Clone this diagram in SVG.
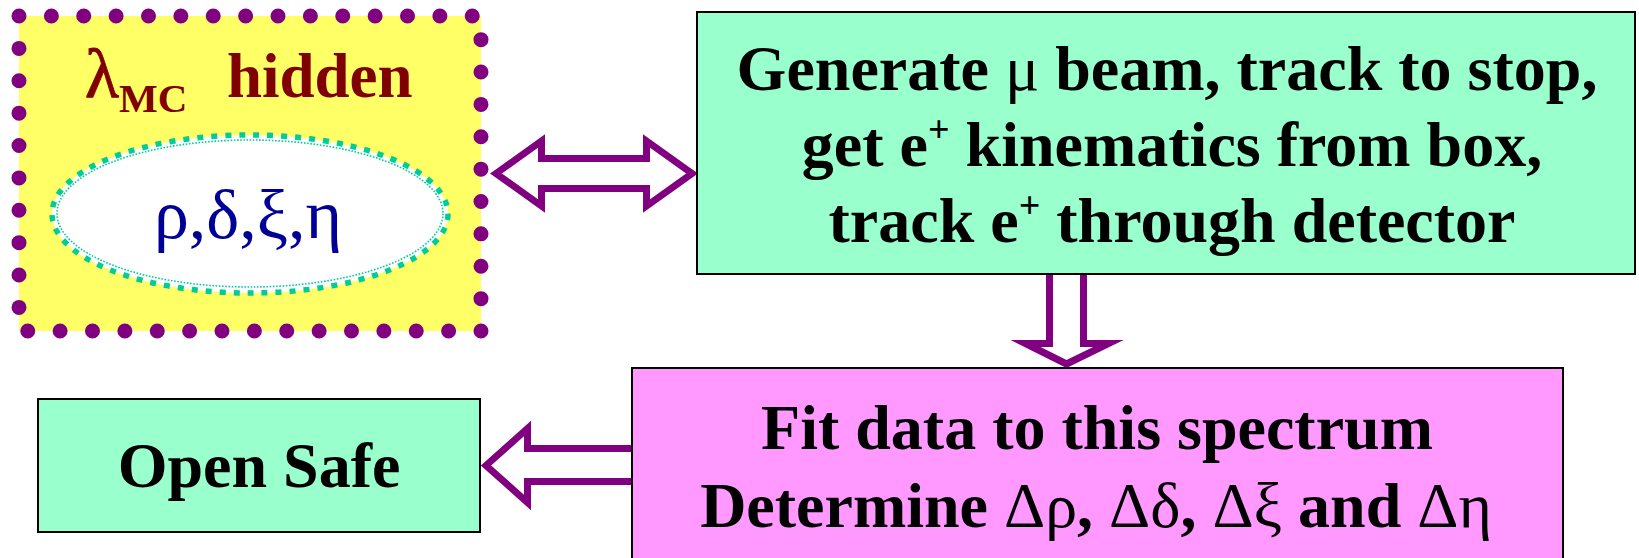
<svg xmlns="http://www.w3.org/2000/svg" width="1639" height="558" viewBox="0 0 1639 558">
  <style>
    .lbl { font-family: "Liberation Serif", "Times New Roman", serif; font-weight: bold; font-size: 64px; fill: #000; text-anchor: middle; }
    .gk { font-weight: normal; }
    .box { stroke: #000; stroke-width: 2; }
    .arrow { fill: #fff; stroke: #800080; stroke-width: 7; stroke-linejoin: miter; stroke-miterlimit: 10; }
    .sup { font-size: 38px; }
  </style>

  <rect width="1639" height="558" fill="#fff"/>

  <!-- connectors: hollow block arrows -->
  <g id="connectors">
    <!-- two-way arrow between the hidden-parameter box and the generator -->
    <path class="arrow" d="M496,173.5 L541.5,141 L541.5,158.5 L646.5,158.5 L646.5,141 L692,173.5 L646.5,206 L646.5,188.5 L541.5,188.5 L541.5,206 Z"/>
    <!-- generator down to the fit -->
    <path class="arrow" d="M1049.5,270 L1083.5,270 L1083.5,343.5 L1108.5,343.5 L1066.5,364 L1025.5,343.5 L1049.5,343.5 Z"/>
    <!-- fit to open safe -->
    <path class="arrow" d="M486,465.5 L527.5,428.5 L527.5,448.5 L636,448.5 L636,481.5 L527.5,481.5 L527.5,502.5 Z"/>
  </g>

  <!-- hidden lambda box with parameter ellipse -->
  <g id="hidden">
    <rect x="19" y="16" width="462" height="315" fill="#ffff66"/>
    <rect x="19" y="16" width="462" height="315" fill="none" stroke="#800080" stroke-width="15" stroke-linecap="round" stroke-dasharray="0 32.375"/>
    <text x="85" y="97" font-family="Liberation Serif, serif" font-size="70" fill="#800000" stroke="#800000" stroke-width="1">λ<tspan dy="15" font-size="41" font-weight="bold" stroke="none">MC</tspan></text>
    <text x="227" y="97" font-family="Liberation Serif, serif" font-size="63" font-weight="bold" fill="#800000">hidden</text>
    <ellipse cx="250" cy="214" rx="198" ry="79" fill="#fff" stroke="#00cc99" stroke-width="5.5" stroke-dasharray="6 8"/>
    <ellipse cx="250" cy="213.5" rx="193" ry="73.5" fill="none" stroke="#00cc99" stroke-width="1.6" stroke-dasharray="1.6 1.6"/>
    <text x="248" y="238" font-family="Liberation Serif, serif" font-size="70" fill="#000099" text-anchor="middle">ρ,δ,ξ,η</text>
  </g>

  <!-- generation step -->
  <g id="generate">
    <rect class="box" x="697" y="12" width="938" height="262" fill="#99ffcc"/>
    <text class="lbl" x="1167" y="90">Generate <tspan class="gk">μ</tspan> beam, track to stop,</text>
    <text class="lbl" x="1172" y="166">get e<tspan class="sup" dy="-24">+</tspan><tspan dy="24"> kinematics from box,</tspan></text>
    <text class="lbl" x="1172" y="242">track e<tspan class="sup" dy="-24">+</tspan><tspan dy="24"> through detector</tspan></text>
  </g>

  <!-- fitting step -->
  <g id="fit">
    <rect class="box" x="632" y="368" width="931" height="210" fill="#ff99ff"/>
    <text class="lbl" x="1097" y="449">Fit data to this spectrum</text>
    <text class="lbl" x="1096" y="527">Determine <tspan class="gk">Δρ</tspan>, <tspan class="gk">Δδ</tspan>, <tspan class="gk">Δξ</tspan> and <tspan class="gk">Δη</tspan></text>
  </g>

  <!-- final step -->
  <g id="open-safe">
    <rect class="box" x="38" y="399" width="442" height="133" fill="#99ffcc"/>
    <text class="lbl" x="259" y="487">Open Safe</text>
  </g>
</svg>
